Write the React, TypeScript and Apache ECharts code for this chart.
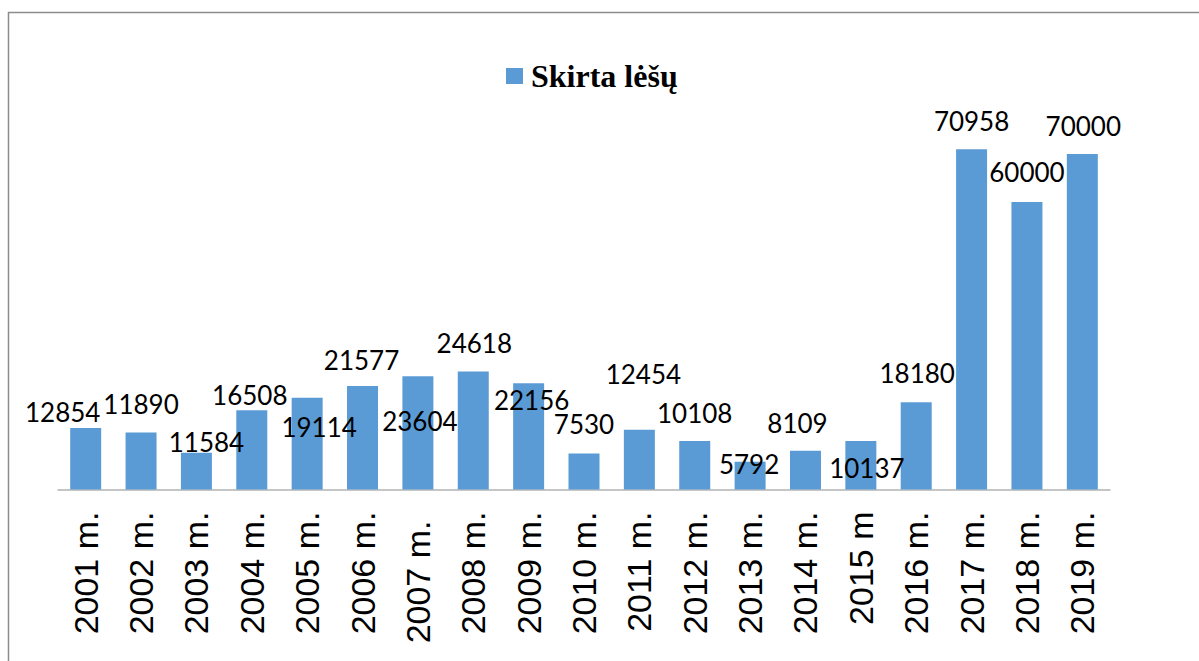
import React, { useEffect, useRef } from "react";
import * as echarts from "echarts";

const categories = [
  "2001 m.", "2002 m.", "2003 m.", "2004 m.", "2005 m.", "2006 m.", "2007 m.",
  "2008 m.", "2009 m.", "2010 m.", "2011 m.", "2012 m.", "2013 m.", "2014 m.",
  "2015 m", "2016 m.", "2017 m.", "2018 m.", "2019 m.",
];

// bar heights as drawn
const barValues = [
  12854, 11890, 7680, 16508, 19114, 21577, 23604, 24618, 22156, 7530,
  12454, 10108, 5792, 8109, 10137, 18180, 70958, 60000, 70000,
];

// data label texts as shown
const labelTexts = [
  "12854", "11890", "11584", "16508", "19114", "21577", "23604", "24618", "22156", "7530",
  "12454", "10108", "5792", "8109", "10137", "18180", "70958", "60000", "70000",
];

const seriesName = "Skirta lėšų";

// label placement offsets (style only): [dx, dy] from bar top centre
const labelOffsets: [number, number][] = [
  [-23, -16], [0, -29], [10, -11], [-2, -15], [12, 29], [-1, -26], [2, 45],
  [1, -28], [3, 17], [0, -29], [4, -56], [0, -28], [-1, 2], [-8, -28],
  [6, 27], [1, -29], [0, -28], [0, -30], [1, -28],
];

export default function App() {
  const ref = useRef<HTMLDivElement>(null);

  useEffect(() => {
    document.body.style.margin = "0";
    document.body.style.overflow = "hidden";
    if (!ref.current) return;
    const chart = echarts.init(ref.current, null, { renderer: "svg" });
    const axisFont = { fontFamily: "Liberation Sans", fontSize: 34, color: "#000" };
    chart.setOption({
      animation: false,
      backgroundColor: "#fff",
      grid: { left: 58, right: 89, top: 106, bottom: 171.5, containLabel: false },
      legend: {
        show: true,
        left: 506,
        top: 60,
        padding: 0,
        itemWidth: 17,
        itemHeight: 16,
        icon: "rect",
        data: [seriesName],
        textStyle: {
          fontFamily: "Liberation Serif",
          fontWeight: "bold",
          fontSize: 32,
          color: "#000",
          padding: [0, 0, 0, 3],
        },
      },
      xAxis: {
        type: "category",
        data: categories,
        axisTick: { show: false },
        axisLine: { show: true, lineStyle: { color: "#b3b3b3", width: 1.5 } },
        axisLabel: {
          interval: 0,
          rotate: 90,
          margin: 22,
          ...axisFont,
          formatter: (v: string) => (v === "2007 m." ? `{p|${v}}` : v),
          rich: { p: { ...axisFont, padding: [0, 9, 0, 0] } },
        },
      },
      yAxis: {
        type: "value",
        min: 0,
        max: 80000,
        show: false,
        splitLine: { show: false },
      },
      series: [
        {
          name: seriesName,
          type: "bar",
          barWidth: 31,
          itemStyle: { color: "#5B9BD5" },
          label: {
            show: true,
            position: "top",
            distance: 0,
            align: "center",
            verticalAlign: "middle",
            fontFamily: "Lato",
            fontSize: 26,
            color: "#000",
            formatter: (p: any) => labelTexts[p.dataIndex],
          },
          data: barValues.map((v, i) => ({ value: v, label: { offset: labelOffsets[i] } })),
        },
      ],
      graphic: [
        {
          type: "rect",
          silent: true,
          shape: { x: 8.5, y: 12.5, width: 1400, height: 1000 },
          style: { fill: "none", stroke: "#8c8c8c", lineWidth: 1.5 },
        },
      ],
    });
    return () => chart.dispose();
  }, []);

  return <div ref={ref} style={{ width: 1199, height: 661 }} />;
}
